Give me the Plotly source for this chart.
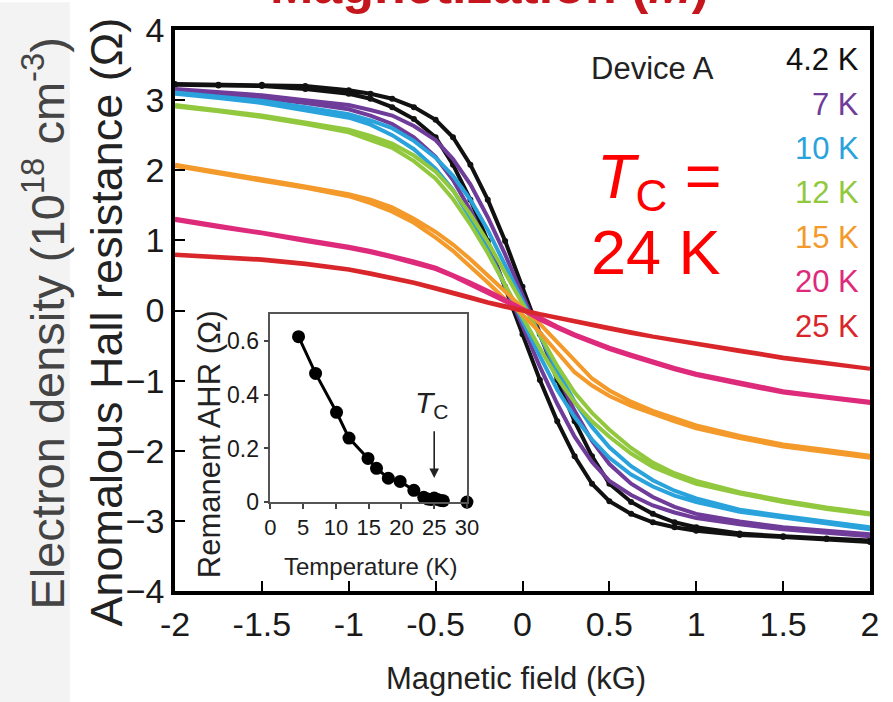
import plotly.graph_objects as go

# ---------------- data ----------------
field = [-2, -1.75, -1.5, -1.25, -1, -0.875, -0.75, -0.625, -0.5, -0.4, -0.3, -0.2, -0.1, 0,
         0.1, 0.2, 0.3, 0.4, 0.5, 0.625, 0.75, 0.875, 1, 1.25, 1.5, 1.75, 2]

temps = ["4.2 K", "7 K", "10 K", "12 K", "15 K", "20 K", "25 K"]
colors = ["#111111", "#6f3c9a", "#2aa3dc", "#92c83e", "#f39a2a", "#de2a7b", "#d9262b"]

# sweep up (-2 -> +2) branch values, listed along increasing field
up_42 = [3.23, 3.22, 3.22, 3.20, 3.14, 3.09, 3.02, 2.90, 2.72, 2.47, 2.08, 1.58, 0.99, 0.34,
         -0.34, -0.99, -1.58, -2.08, -2.47, -2.73, -2.90, -3.02, -3.09, -3.18, -3.22, -3.25, -3.28]
dn_42 = [3.22, 3.21, 3.20, 3.16, 3.09, 3.02, 2.90, 2.73, 2.47, 2.08, 1.58, 0.99, 0.34, -0.34,
         -0.99, -1.58, -2.08, -2.47, -2.72, -2.90, -3.02, -3.09, -3.14, -3.20, -3.23, -3.26, -3.30]
up_7 = [3.16, 3.11, 3.07, 3.00, 2.93, 2.86, 2.78, 2.63, 2.43, 2.16, 1.80, 1.33, 0.80, 0.22,
        -0.36, -0.92, -1.43, -1.86, -2.19, -2.47, -2.66, -2.80, -2.90, -3.01, -3.09, -3.14, -3.19]
dn_7 = [3.15, 3.09, 3.03, 2.96, 2.87, 2.78, 2.66, 2.47, 2.19, 1.86, 1.43, 0.92, 0.36, -0.22,
        -0.80, -1.33, -1.80, -2.16, -2.43, -2.63, -2.78, -2.88, -2.96, -3.05, -3.12, -3.17, -3.22]
up_10 = [3.11, 3.05, 2.99, 2.90, 2.80, 2.71, 2.60, 2.42, 2.18, 1.92, 1.58, 1.15, 0.65, 0.15,
         -0.35, -0.86, -1.30, -1.66, -1.95, -2.22, -2.42, -2.57, -2.68, -2.84, -2.93, -3.01, -3.09]
dn_10 = [3.09, 3.03, 2.96, 2.86, 2.75, 2.65, 2.50, 2.30, 2.02, 1.72, 1.32, 0.86, 0.35, -0.15,
         -0.65, -1.13, -1.52, -1.84, -2.10, -2.34, -2.51, -2.64, -2.73, -2.87, -2.96, -3.04, -3.12]
up_12 = [2.93, 2.86, 2.78, 2.68, 2.58, 2.49, 2.38, 2.21, 1.98, 1.71, 1.37, 0.98, 0.54, 0.09,
         -0.36, -0.79, -1.17, -1.46, -1.70, -1.96, -2.17, -2.32, -2.43, -2.59, -2.71, -2.81, -2.89]
dn_12 = [2.91, 2.84, 2.76, 2.66, 2.54, 2.43, 2.32, 2.13, 1.88, 1.59, 1.23, 0.82, 0.36, -0.09,
         -0.54, -0.96, -1.31, -1.58, -1.80, -2.04, -2.23, -2.36, -2.47, -2.61, -2.73, -2.83, -2.91]
up_15 = [2.08, 1.98, 1.87, 1.77, 1.66, 1.58, 1.47, 1.31, 1.12, 0.94, 0.73, 0.50, 0.28, 0.05,
         -0.19, -0.45, -0.72, -0.97, -1.14, -1.30, -1.43, -1.54, -1.64, -1.79, -1.91, -1.99, -2.07]
dn_15 = [2.06, 1.96, 1.85, 1.75, 1.63, 1.53, 1.41, 1.25, 1.04, 0.85, 0.63, 0.40, 0.16, -0.06,
         -0.31, -0.60, -0.88, -1.07, -1.22, -1.36, -1.47, -1.58, -1.68, -1.82, -1.94, -2.02, -2.10]
up_20 = [1.31, 1.21, 1.12, 1.01, 0.91, 0.85, 0.78, 0.70, 0.61, 0.51, 0.40, 0.28, 0.15, 0.03,
         -0.11, -0.23, -0.34, -0.44, -0.53, -0.63, -0.73, -0.82, -0.90, -1.03, -1.15, -1.23, -1.30]
dn_20 = [1.29, 1.19, 1.10, 0.99, 0.89, 0.83, 0.76, 0.68, 0.59, 0.49, 0.38, 0.26, 0.13, 0.01,
         -0.13, -0.25, -0.36, -0.46, -0.55, -0.65, -0.75, -0.84, -0.92, -1.05, -1.17, -1.25, -1.32]
up_25 = [0.80, 0.77, 0.73, 0.67, 0.59, 0.53, 0.47, 0.40, 0.32, 0.26, 0.19, 0.12, 0.06, 0.00,
         -0.05, -0.10, -0.15, -0.20, -0.25, -0.31, -0.37, -0.42, -0.47, -0.57, -0.67, -0.75, -0.82]
dn_25 = [0.79, 0.76, 0.72, 0.66, 0.58, 0.52, 0.46, 0.39, 0.31, 0.25, 0.18, 0.11, 0.05, -0.01,
         -0.06, -0.11, -0.16, -0.21, -0.26, -0.32, -0.38, -0.43, -0.48, -0.58, -0.68, -0.76, -0.83]

ups = [up_42, up_7, up_10, up_12, up_15, up_20, up_25]
downs = [dn_42, dn_7, dn_10, dn_12, dn_15, dn_20, dn_25]

# inset: remanent AHR vs temperature
inset_T = [4.3, 6.9, 10.1, 12.0, 14.9, 16.2, 18.0, 19.8, 21.9, 23.4, 24.0, 24.5, 25.0, 25.5, 26.0, 26.4]
inset_R = [0.617, 0.48, 0.335, 0.239, 0.163, 0.126, 0.089, 0.077, 0.044, 0.018, 0.012, 0.010,
           0.015, 0.010, 0.006, 0.005]
inset_T_extra = [30]
inset_R_extra = [0.0]

x_ticks = [-2, -1.5, -1, -0.5, 0, 0.5, 1, 1.5, 2]
x_ticktext = ["-2", "-1.5", "-1", "-0.5", "0", "0.5", "1", "1.5", "2"]
y_ticks = [-4, -3, -2, -1, 0, 1, 2, 3, 4]
inset_xticks = [0, 5, 10, 15, 20, 25, 30]
inset_yticks = [0, 0.2, 0.4, 0.6]
inset_yticktext = ["0", "0.2", "0.4", "0.6"]

FONT = "Liberation Sans, Arial, sans-serif"

# ---------------- figure ----------------
fig = go.Figure()

for i, (name, col) in enumerate(zip(temps, colors)):
    xs = field + field[::-1]
    ys = ups[i] + downs[i][::-1]
    fig.add_trace(go.Scatter(
        x=xs, y=ys, mode="lines+markers" if i == 0 else "lines",
        line=dict(color=col, width=4),
        marker=dict(size=6, color=col),
        showlegend=False, name=name))

fig.add_trace(go.Scatter(x=inset_T, y=inset_R, xaxis="x2", yaxis="y2", mode="lines+markers",
                         line=dict(color="black", width=3), marker=dict(size=13, color="black"),
                         showlegend=False, cliponaxis=False))
fig.add_trace(go.Scatter(x=inset_T_extra, y=inset_R_extra, xaxis="x2", yaxis="y2", mode="markers",
                         marker=dict(size=13, color="black"), showlegend=False, cliponaxis=False))

L, R, T, B = 175, 882, 23, 591
W, H = 893, 702


def px(x):
    return (x - L) / (R - L)


def py(y):
    return (B - y) / (B - T)


fig.update_layout(
    width=W, height=H,
    margin=dict(l=L, r=W - R, t=T, b=H - B, pad=0),
    paper_bgcolor="white", plot_bgcolor="white",
    font=dict(family=FONT, color="#1a1a1a"),
    xaxis=dict(range=[-2, 2], tickvals=x_ticks, ticktext=x_ticktext, ticks="inside", ticklen=10,
               tickwidth=2, tickcolor="black", showline=True, linewidth=3.5, linecolor="black",
               mirror=True, showgrid=False, zeroline=False, tickfont=dict(size=34, color="#1a1a1a"),
               domain=[0, 1]),
    yaxis=dict(range=[-4, 4], tickvals=y_ticks, ticks="inside", ticklen=10, tickwidth=2,
               tickcolor="black", showline=True, linewidth=3.5, linecolor="black", mirror=True,
               showgrid=False, zeroline=False, tickfont=dict(size=34, color="#1a1a1a"), domain=[0, 1]),
    xaxis2=dict(domain=[px(272), px(472)], anchor="y2", range=[0, 30], tickvals=inset_xticks,
                ticks="outside", ticklen=5, tickwidth=1.5, tickcolor="#444", showline=True,
                linewidth=1.5, linecolor="#555", mirror=True, showgrid=False, zeroline=False,
                tickfont=dict(size=22, color="#1a1a1a")),
    yaxis2=dict(domain=[py(501), py(311)], anchor="x2", range=[0, 0.7], tickvals=inset_yticks,
                ticktext=inset_yticktext, ticks="outside", ticklen=5, tickwidth=1.5, tickcolor="#444",
                showline=True, linewidth=1.5, linecolor="#555", mirror=True, showgrid=False,
                zeroline=False, tickfont=dict(size=23, color="#1a1a1a")),
)

fig.add_shape(type="rect", xref="paper", yref="paper", x0=px(-5), x1=px(68), y0=py(710), y1=py(-5),
              fillcolor="#f3f3f3", line=dict(width=0), layer="below")

ann = []
ann.append(dict(text="<b>Magnetization (<i>M</i>)</b>", x=px(495), y=py(9), xanchor="center",
                yanchor="bottom", font=dict(size=52, color="#c4161c")))
ann.append(dict(text="Device A", x=px(661), y=py(62), xanchor="center", yanchor="middle",
                font=dict(size=31, color="#222222")))
label_y = [53, 98, 143, 188, 233, 278, 323]
for name, col, yy in zip(temps, colors, label_y):
    ann.append(dict(text=name, x=px(873), y=py(yy), xanchor="right", yanchor="middle",
                    font=dict(size=31, color=col)))
ann.append(dict(text="<i>T</i><sub>C</sub> =", x=px(668), y=py(175), xanchor="center", yanchor="middle",
                font=dict(size=63, color="#ff0000")))
ann.append(dict(text="24 K", x=px(664), y=py(248), xanchor="center", yanchor="middle",
                font=dict(size=63, color="#ff0000")))
ann.append(dict(text="Anomalous Hall resistance (Ω)", x=px(105), y=py(319), textangle=-90,
                xanchor="center", yanchor="middle", font=dict(size=45, color="#222222")))
ann.append(dict(text="Electron density (10<sup>18</sup> cm<sup>-3</sup>)", x=px(42), y=py(320),
                textangle=-90, xanchor="center", yanchor="middle",
                font=dict(size=47, color="#444444")))
ann.append(dict(text="Magnetic field (kG)", x=px(522), y=py(680), xanchor="center", yanchor="middle",
                font=dict(size=31, color="#222222")))
ann.append(dict(text="Remanent AHR (Ω)", x=px(210), y=py(442), textangle=-90, xanchor="center",
                yanchor="middle", font=dict(size=31, color="#222222")))
ann.append(dict(text="Temperature (K)", x=px(374), y=py(566), xanchor="center", yanchor="middle",
                font=dict(size=24, color="#222222")))
ann.append(dict(text="<i>T</i><sub>C</sub>", x=px(436), y=py(402), xanchor="center", yanchor="middle",
                font=dict(size=30, color="#222222")))
for a in ann:
    a.update(xref="paper", yref="paper", showarrow=False)
ann.append(dict(text="", xref="x2", yref="y2", axref="x2", ayref="y2", x=25, y=0.09, ax=25, ay=0.27,
                showarrow=True, arrowhead=2, arrowsize=1.2, arrowwidth=1.6, arrowcolor="#222222"))
fig.update_layout(annotations=ann)

fig.write_html("out.html")
